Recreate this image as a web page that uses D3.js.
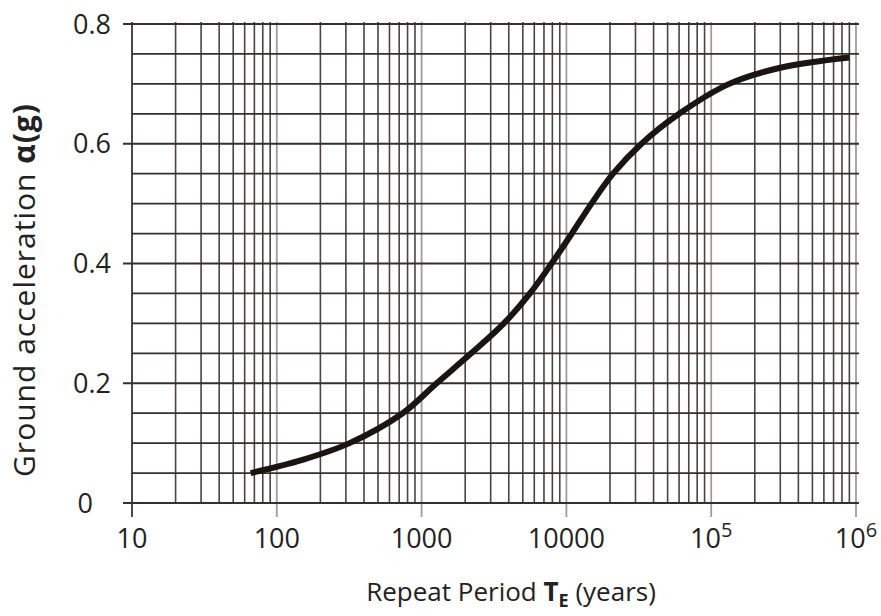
<!DOCTYPE html>
<html>
<head>
<meta charset="utf-8">
<script src="https://cdn.jsdelivr.net/npm/d3@7"></script>
<style>
  body { margin: 0; background: #fff; }
  svg { display: block; font-family: "Open Sans", sans-serif; }
</style>
</head>
<body>
<svg id="chart" width="881" height="616"></svg>
<script>
// 讀自圖上的曲線 (年, g)
const periods = [66, 150, 318, 740, 1270, 2200, 3700, 5600, 7900, 10900, 14900, 21000, 33000, 60000, 133000, 300000, 900000];
const accel = [0.050, 0.072, 0.100, 0.150, 0.200, 0.250, 0.300, 0.350, 0.400, 0.450, 0.500, 0.550, 0.600, 0.650, 0.700, 0.727, 0.744];

// 刻度
const xTickValues = [10, 100, 1000, 10000, 100000, 1000000];
const xTickBase = ["10", "100", "1000", "10000", "10", "10"];
const xTickExp = ["", "", "", "", "5", "6"];
const yTickValues = [0, 0.2, 0.4, 0.6, 0.8];
const yTickLabels = ["0", "0.2", "0.4", "0.6", "0.8"];

const svg = d3.select("#chart");
const plotLeft = 132, plotRight = 856, plotTop = 24, plotBottom = 503;

const x = d3.scaleLog().domain([10, 1e6]).range([plotLeft, plotRight]);
const y = d3.scaleLinear().domain([0, 0.8]).range([plotBottom, plotTop]);

const grid = svg.append("g");

// 縱向格線：每十倍內 2..9
const minor = [];
for (let p = 10; p < 1e6; p *= 10) {
  for (let k = 2; k <= 9; k++) minor.push(p * k);
}
grid.selectAll("line.minor")
  .data(minor)
  .enter()
  .append("line")
  .attr("x1", d => x(d)).attr("x2", d => x(d))
  .attr("y1", plotTop - 2).attr("y2", plotBottom)
  .attr("stroke", "#4a4444")
  .attr("stroke-width", 1.6);

// 十倍線 (淡灰) 與下方刻度
grid.selectAll("line.decade")
  .data(xTickValues)
  .enter()
  .append("line")
  .attr("x1", d => x(d)).attr("x2", d => x(d))
  .attr("y1", plotTop - 2).attr("y2", plotBottom + 14)
  .attr("stroke", (d, i) => i === 0 ? "#3a3535" : "#a09c9c")
  .attr("stroke-width", 1.8);

// 橫向格線每 0.05
const hLines = d3.range(0, 17).map(i => i * 0.05);
grid.selectAll("line.h")
  .data(hLines)
  .enter()
  .append("line")
  .attr("x1", (d, i) => i % 4 === 0 ? plotLeft - 9 : plotLeft)
  .attr("x2", plotRight + 3)
  .attr("y1", d => y(d)).attr("y2", d => y(d))
  .attr("stroke", "#352f2f")
  .attr("stroke-width", 1.8);

// 曲線
const line = d3.line()
  .x((d, i) => x(periods[i]))
  .y(d => y(d))
  .curve(d3.curveCatmullRom.alpha(0.5));

svg.append("path")
  .datum(accel)
  .attr("d", line)
  .attr("fill", "none")
  .attr("stroke", "#1a1512")
  .attr("stroke-width", 6)
  .attr("stroke-linecap", "butt");

// x 刻度文字
const xt = svg.selectAll("text.xt")
  .data(xTickValues)
  .enter()
  .append("text")
  .attr("x", d => x(d))
  .attr("y", 548)
  .attr("text-anchor", "middle")
  .style("font-size", "27px")
  .style("fill", "#222");
xt.append("tspan").text((d, i) => xTickBase[i]);
xt.append("tspan")
  .attr("dy", -11)
  .style("font-size", "20px")
  .text((d, i) => xTickExp[i]);

// y 刻度文字
svg.selectAll("text.yt")
  .data(yTickValues)
  .enter()
  .append("text")
  .attr("x", (d, i) => i === 0 ? 93 : 111)
  .attr("y", d => y(d))
  .attr("dy", "0.36em")
  .attr("text-anchor", "end")
  .style("font-size", "27px")
  .style("fill", "#222")
  .text((d, i) => yTickLabels[i]);

// 軸標題
const xTitle = svg.append("text")
  .attr("x", 511)
  .attr("y", 601)
  .attr("text-anchor", "middle")
  .style("font-size", "26px")
  .style("fill", "#222");
xTitle.append("tspan").text("Repeat Period ");
xTitle.append("tspan").style("font-weight", "bold").text("T");
xTitle.append("tspan").attr("dy", 6).style("font-weight", "bold").style("font-size", "18px").text("E");
xTitle.append("tspan").attr("dy", -6).text(" (years)");

const yTitle = svg.append("text")
  .attr("transform", "translate(35,290) rotate(-90)")
  .attr("text-anchor", "middle")
  .style("font-size", "30px")
  .style("letter-spacing", "1px")
  .style("fill", "#222");
yTitle.append("tspan").text("Ground acceleration ");
yTitle.append("tspan").style("font-weight", "bold").text("α(g)");
</script>
</body>
</html>
